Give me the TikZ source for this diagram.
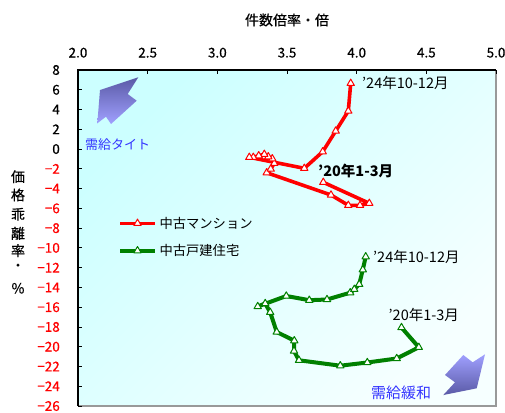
\documentclass[tikz,border=0pt]{standalone}
\usepackage{fontspec}
\usetikzlibrary{plotmarks}
\setmainfont{Noto Sans CJK JP}
\newfontfamily\tickfont{Noto Sans CJK JP}[FakeBold=0.5]
\definecolor{serred}{HTML}{FF0000}
\definecolor{sergreen}{HTML}{008000}
\definecolor{txtblue}{HTML}{3333FF}
\definecolor{arrdark}{HTML}{5A5AA6}
\definecolor{arrlight}{HTML}{A0A0FF}
\definecolor{bgtop}{HTML}{CCFFFF}
\definecolor{bgbot}{HTML}{F6FFFF}
\definecolor{framegray}{HTML}{999999}
\tikzset{
  ticklab/.style={font=\tickfont\fontsize{13.5}{13.5}\selectfont, inner sep=0pt},
  titlelab/.style={font=\tickfont\fontsize{14}{14}\selectfont, inner sep=0pt},
  notelab/.style={font=\fontsize{14.5}{14.5}\selectfont, inner sep=0pt, anchor=west},
  redser/.style={serred, line width=3.6pt, line join=round, mark=triangle*, mark size=4.2pt,
     mark options={fill=white, draw=serred, line width=1pt, solid}},
  greenser/.style={sergreen, line width=4pt, line join=round, mark=triangle*, mark size=4.2pt,
     mark options={fill=white, draw=sergreen, line width=1pt, solid}},
}
\begin{document}
\begin{tikzpicture}[x=1pt,y=-1pt]
\useasboundingbox (0,0) rectangle (505,412);
% plot background
\shade[top color=bgtop, bottom color=bgbot, shading angle=45] (78,70) rectangle (496,406);
% frame
\draw[framegray, line width=1.2pt] (78,406) -- (496,406) -- (496,70);
\draw[black, line width=1.2pt] (78,406) -- (78,70) -- (496,70);
% ticks and x labels
\foreach \v/\t in {0/2.0,1/2.5,2/3.0,3/3.5,4/4.0,5/4.5,6/5.0}{
  \draw[black, line width=0.8pt] ({78+\v*69.67},70) -- ({78+\v*69.67},74);
  \node[ticklab] (xl\v) at ({78+\v*69.67},52.7) {\t};
}
\foreach \i in {0,...,17}{
  \draw[black, line width=0.8pt] (78,{70+\i*19.765}) -- (82,{70+\i*19.765});
}
\foreach \i/\t in {0/8,1/6,2/4,3/2,4/0}{
  \node[ticklab, anchor=east] (yl\i) at (60,{70+\i*19.765}) {\t};
}
\foreach \i/\t in {5/2,6/4,7/6,8/8,9/10,10/12,11/14,12/16,13/18,14/20,15/22,16/24,17/26}{
  \node[ticklab, anchor=east, text=serred] (yl\i) at (60,{70+\i*19.765}) {−\t};
}
% axis titles
\node[titlelab] (xtitle) at (287,20) {件数倍率・倍};
\foreach \c/\y [count=\k] in {価/176.7,格/195,乖/214.3,離/233.3,率/250.7,・/267,\%/288.3}{
  \node[titlelab] (yt\k) at (18,\y) {\c};
}
% arrows
\shade[top color=arrdark, bottom color=arrlight]
  (138.3,77.3) -- (100,90) -- (97.3,123.3) -- (106,116.7) -- (111,124) -- (136.7,100.7) -- (127.7,94) -- cycle;
\shade[top color=arrlight, bottom color=arrdark]
  (485,354.3) -- (476.7,388.3) -- (443.3,395) -- (455,382.3) -- (445,375) -- (463.3,355) -- (472.7,362.3) -- cycle;
\node[font=\fontsize{13}{13}\selectfont, text=txtblue, inner sep=0pt, anchor=west] (tight) at (85,145) {需給タイト};
\node[font=\fontsize{15}{15}\selectfont, text=txtblue, inner sep=0pt, anchor=west] (loose) at (371,392.7) {需給緩和};
% red series
\draw[redser] plot coordinates {(323.3,182.3) (369.3,203.3) (360,205.3) (348.3,205.3) (331,195)
  (266.7,172.7) (270.7,169) (274.3,163.3) (272.3,158.7) (268.3,156.7) (264.3,154.3) (258.7,155.7)
  (253.3,157.3) (249.3,157.3) (304.3,168.3) (322.7,151.7) (335.7,131) (348.3,111) (350.7,83.3)};
% green series
\draw[greenser] plot coordinates {(401.5,327.5) (418.8,347.3) (396.7,358.5) (367.3,362.5) (340.3,365.7)
  (299,360.3) (294,351) (294.3,340.7) (276.7,332) (270.2,312.3) (265.2,303.5) (257.7,306.5)
  (286.3,296) (309.3,300.2) (327,299.5) (350.2,292.7) (354.3,289.3) (359.2,284.3) (362.8,269.7) (365.7,256.7)};
% data labels
\node[notelab] (r24) at (362,83.3) {'24年10-12月};
\node[notelab, font=\bfseries\fontsize{14.5}{14.5}\selectfont] (r20) at (318,170.7) {'20年1-3月};
\node[notelab] (g24) at (373,256.7) {'24年10-12月};
\node[notelab] (g20) at (388.5,315) {'20年1-3月};
% legend
\draw[redser, mark=none] (120,223.3) -- (155,223.3);
\draw[redser, only marks] plot coordinates {(137.5,223.3)};
\node[font=\fontsize{13.3}{13.3}\selectfont, inner sep=0pt, anchor=west] (legr) at (159.3,223.3) {中古マンション};
\draw[greenser, mark=none] (120,250.7) -- (155,250.7);
\draw[greenser, only marks] plot coordinates {(137.5,250.7)};
\node[font=\fontsize{13.3}{13.3}\selectfont, inner sep=0pt, anchor=west] (legg) at (159.3,250.7) {中古戸建住宅};
\end{tikzpicture}
\end{document}
